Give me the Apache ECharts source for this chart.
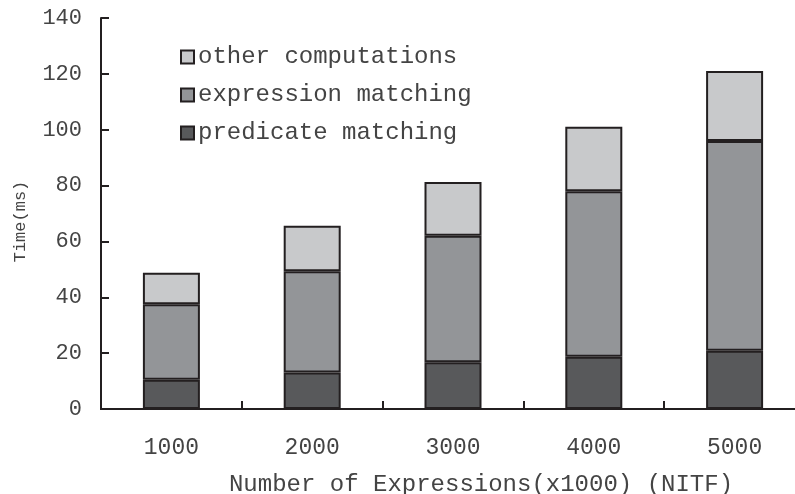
<!DOCTYPE html>
<html>
<head>
<meta charset="utf-8">
<script src="https://cdn.jsdelivr.net/npm/echarts@6/dist/echarts.min.js"></script>
<style>
  html, body { margin: 0; padding: 0; background: #fff; }
  #chart { width: 795px; height: 494px; }
</style>
</head>
<body>
<div id="chart"></div>
<script>
const categories = ['1000', '2000', '3000', '4000', '5000']
const predicateMatching = [10.5, 13.1, 16.7, 18.7, 20.9]
const expressionMatching = [27.0, 36.2, 45.3, 59.3, 75.1]
const otherComputations = [11.3, 16.3, 19.3, 23.1, 25.0]

const font = '"Liberation Mono", "Courier New", monospace'
const ink = '#231f20'
const textColor = '#444'

const barBorder = { borderColor: ink, borderWidth: 2 }
const plotWidth = 704 // правый край обрезан, как в оригинале

const chart = echarts.init(document.getElementById('chart'))

chart.setOption({
  animation: false,
  backgroundColor: '#fff',
  textStyle: { fontFamily: font },
  grid: {
    left: 101,
    top: 18,
    width: plotWidth,
    height: 391,
    outerBoundsMode: 'none',
  },
  legend: {
    orient: 'vertical',
    left: 175,
    top: 40,
    itemWidth: 13,
    itemHeight: 13,
    itemGap: 14,
    icon: 'rect',
    data: ['other computations', 'expression matching', 'predicate matching'],
    textStyle: { fontFamily: font, fontSize: 24, color: textColor, padding: [0, 0, 0, -1] },
  },
  xAxis: [
    {
      type: 'category',
      data: categories,
      name: 'Number of Expressions(x1000) (NITF)',
      nameLocation: 'middle',
      nameGap: 64,
      nameTextStyle: { fontFamily: font, fontSize: 24, color: textColor, padding: [0, 0, 0, 56] },
      axisLine: { lineStyle: { color: ink, width: 2 } },
      axisTick: { show: true, inside: true, length: 8, lineStyle: { color: ink, width: 2 } },
      axisLabel: { fontFamily: font, fontSize: 23, color: textColor, margin: 27 },
      splitLine: { show: false },
    },
    {
      // верхняя рамка
      type: 'category',
      position: 'top',
      data: categories,
      axisLine: { show: true, lineStyle: { color: ink, width: 2 } },
      axisTick: { show: false },
      axisLabel: { show: false },
      splitLine: { show: false },
    },
  ],
  yAxis: [
    {
      type: 'value',
      position: 'left',
      min: 0,
      max: 140,
      interval: 20,
      name: 'Time(ms)',
      nameLocation: 'middle',
      nameGap: 72,
      nameTextStyle: { fontFamily: font, fontSize: 17, color: textColor, padding: [0, 16, 0, 0] },
      axisLine: { show: true, onZero: false, lineStyle: { color: ink, width: 2 } },
      axisTick: { show: false },
      axisLabel: { fontFamily: font, fontSize: 22, color: textColor, margin: 19 },
      splitLine: { show: false },
    },
    {
      // внутренние засечки оси Y (перенесённая правая ось)
      type: 'value',
      position: 'right',
      offset: -plotWidth,
      min: 0,
      max: 140,
      interval: 20,
      axisLine: { show: false },
      axisTick: { show: true, length: 8, lineStyle: { color: ink, width: 2 } },
      axisLabel: { show: false },
      splitLine: { show: false },
    },
  ],
  series: [
    {
      name: 'predicate matching',
      type: 'bar',
      stack: 'time',
      barWidth: 57,
      data: predicateMatching,
      itemStyle: { color: '#58595b', ...barBorder },
    },
    {
      name: 'expression matching',
      type: 'bar',
      stack: 'time',
      data: expressionMatching,
      itemStyle: { color: '#939598', ...barBorder },
    },
    {
      name: 'other computations',
      type: 'bar',
      stack: 'time',
      data: otherComputations,
      itemStyle: { color: '#c8c9cb', ...barBorder },
    },
  ],
})
</script>
</body>
</html>
